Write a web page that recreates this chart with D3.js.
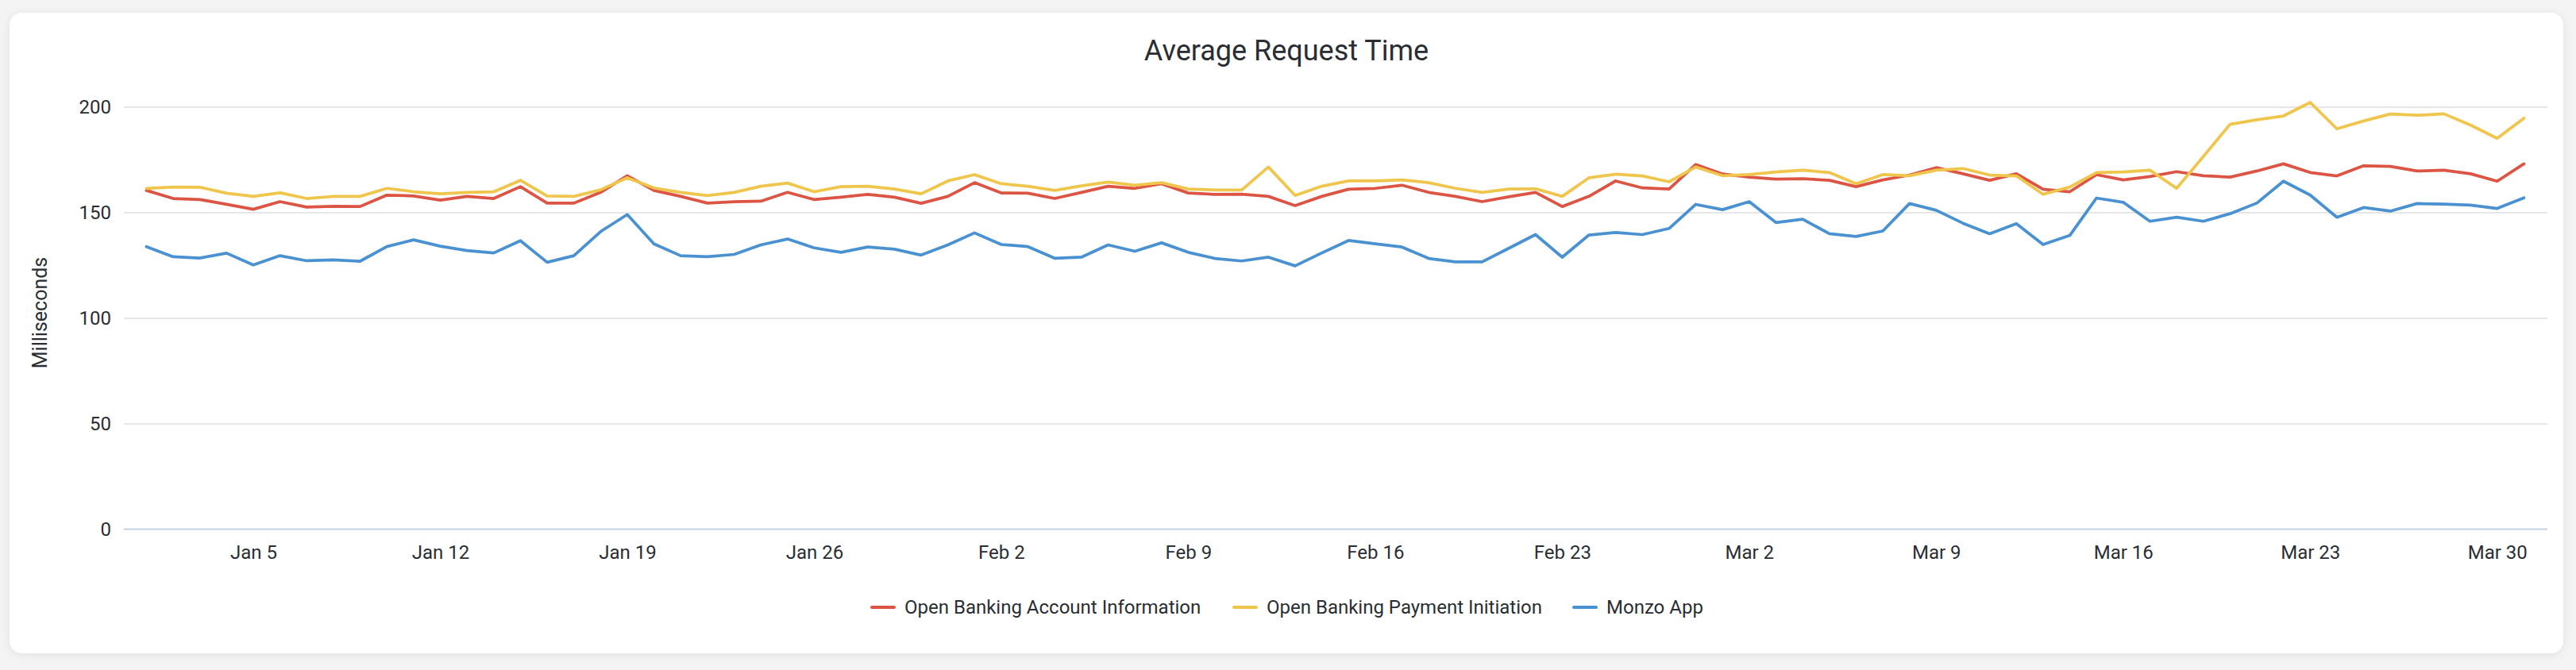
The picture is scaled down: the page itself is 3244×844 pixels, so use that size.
<!DOCTYPE html>
<html>
<head>
<meta charset="utf-8">
<script src="https://cdn.jsdelivr.net/npm/d3@7"></script>
<style>
    body { margin: 0; background: #f4f4f4; font-family: Roboto, "Noto Sans", sans-serif; }
</style>
</head>
<body>
<div class="canva"></div>
<script>
// daily values, Jan 1 - Mar 31
const startDay = "2019-01-01";
const dayCount = 90;

const accountInfo = [
    160.4, 156.6, 156.1, 153.8, 151.5, 155.1, 152.5, 152.9, 152.8, 158.2, 157.8, 155.8, 157.6, 156.6, 162.2,
    154.4, 154.4, 159.5, 167.4, 160.4, 157.6, 154.4, 155.1, 155.3, 159.5, 156.1, 157.2, 158.5, 157.2, 154.3,
    157.6, 164.1, 159.2, 159.1, 156.6, 159.5, 162.4, 161.4, 163.6, 159.2, 158.5, 158.6, 157.6, 153.2, 157.6,
    161.0, 161.4, 162.9, 159.5, 157.6, 155.1, 157.4, 159.5, 152.8, 157.6, 164.9, 161.6, 161.1, 172.7, 168.2,
    166.7, 165.8, 166.0, 165.2, 162.2, 165.4, 167.7, 171.2, 168.3, 165.2, 168.3, 161.0, 159.8, 167.9, 165.4,
    167.0, 169.3, 167.4, 166.7, 169.6, 173.0, 168.9, 167.3, 172.1, 171.8, 169.6, 170.0, 168.3, 164.8, 173.0
];

const paymentInit = [
    161.4, 162.0, 161.9, 159.1, 157.6, 159.3, 156.6, 157.6, 157.6, 161.4, 159.8, 158.8, 159.5, 159.8, 165.2,
    157.8, 157.6, 160.7, 166.4, 161.6, 159.5, 158.0, 159.5, 162.4, 163.9, 159.8, 162.2, 162.4, 161.1, 158.8,
    164.9, 167.9, 163.6, 162.4, 160.4, 162.6, 164.4, 162.9, 164.1, 161.1, 160.6, 160.6, 171.5, 158.0, 162.4,
    164.9, 164.9, 165.4, 164.1, 161.4, 159.5, 161.1, 161.2, 157.6, 166.4, 168.1, 167.3, 164.5, 171.5, 167.4,
    167.9, 169.2, 170.0, 168.9, 163.6, 167.9, 167.4, 170.0, 170.8, 167.7, 167.3, 158.6, 162.0, 168.9, 169.2,
    170.0, 161.4, 176.5, 191.7, 193.9, 195.7, 202.1, 189.6, 193.3, 196.6, 196.0, 196.7, 191.4, 185.1, 194.6
];

const monzoApp = [
    133.8, 129.0, 128.4, 130.7, 125.1, 129.5, 127.1, 127.5, 126.9, 133.8, 137.0, 134.0, 131.9, 130.8, 136.6,
    126.4, 129.5, 140.9, 149.0, 135.1, 129.5, 129.0, 130.1, 134.6, 137.4, 133.2, 131.1, 133.6, 132.6, 129.8,
    134.6, 140.3, 134.8, 133.8, 128.3, 128.8, 134.6, 131.6, 135.6, 131.1, 128.2, 127.0, 128.8, 124.7, 130.8,
    136.7, 135.1, 133.6, 128.2, 126.6, 126.6, 133.0, 139.5, 128.8, 139.3, 140.5, 139.5, 142.4, 153.8, 151.3,
    155.1, 145.2, 146.8, 139.9, 138.6, 141.2, 154.2, 151.0, 144.9, 139.9, 144.7, 134.8, 139.1, 156.8, 154.8,
    145.8, 147.7, 145.8, 149.4, 154.4, 164.8, 158.2, 147.7, 152.3, 150.6, 154.2, 153.9, 153.5, 151.9, 156.9
];

const seriesNames = ["Open Banking Account Information", "Open Banking Payment Initiation", "Monzo App"];
const seriesColors = ["#dc5443", "#efc54c", "#4a91d1"];

const xTickDays = ["2019-01-05", "2019-01-12", "2019-01-19", "2019-01-26", "2019-02-02", "2019-02-09",
    "2019-02-16", "2019-02-23", "2019-03-02", "2019-03-09", "2019-03-16", "2019-03-23", "2019-03-30"];
const yTicks = [0, 50, 100, 150, 200];

const parseDay = d3.utcParse("%Y-%m-%d");
const days = d3.utcDay.range(parseDay(startDay), d3.utcDay.offset(parseDay(startDay), dayCount));
const allSeries = [accountInfo, paymentInit, monzoApp];

const W = 3244, H = 844;
const plotLeft = 156, plotRight = 3208;

const svg = d3.select(".canva").append("svg")
    .attr("width", W)
    .attr("height", H)
    .style("display", "block");

const defs = svg.append("defs");
const shadow = defs.append("filter").attr("id", "shadow")
    .attr("x", "-2%").attr("y", "-5%").attr("width", "104%").attr("height", "110%");
shadow.append("feDropShadow")
    .attr("dx", 0).attr("dy", 2).attr("stdDeviation", 6)
    .attr("flood-color", "#000").attr("flood-opacity", 0.08);

// card
svg.append("rect")
    .attr("x", 12).attr("y", 16)
    .attr("width", 3216).attr("height", 807)
    .attr("rx", 16)
    .attr("fill", "#fff")
    .attr("filter", "url(#shadow)");

const x = d3.scaleUtc()
    .domain([days[0], days[days.length - 1]])
    .range([184.4, 3178.4]);

const y = d3.scaleLinear()
    .domain([0, 200])
    .range([666.5, 134.6]);

// grid + y labels
const yAxis = svg.append("g")
    .attr("transform", `translate(${plotLeft},0)`)
    .call(d3.axisLeft(y).tickValues(yTicks).tickSize(-(plotRight - plotLeft)).tickPadding(16));
yAxis.select(".domain").remove();
yAxis.selectAll("line").attr("stroke", "#e6e6e6").attr("stroke-width", 2);
yAxis.selectAll("text")
    .attr("fill", "#2a2e33")
    .style("font-family", "Roboto")
    .style("font-size", "24px");

// x axis line
svg.append("line")
    .attr("x1", plotLeft).attr("x2", plotRight)
    .attr("y1", y(0)).attr("y2", y(0))
    .attr("stroke", "#ccd6eb")
    .attr("stroke-width", 2);

const xAxis = svg.append("g")
    .attr("transform", `translate(0,${y(0)})`)
    .call(d3.axisBottom(x)
        .tickValues(xTickDays.map(parseDay))
        .tickFormat(d3.utcFormat("%b %-d"))
        .tickSize(0)
        .tickPadding(20));
xAxis.select(".domain").remove();
xAxis.selectAll("text")
    .attr("fill", "#2a2e33")
    .style("font-family", "Roboto")
    .style("font-size", "24px");

// lines
const line = d3.line()
    .x((d, i) => x(days[i]))
    .y(d => y(d));

svg.selectAll(".series")
    .data(allSeries)
    .join("path")
    .attr("class", "series")
    .attr("d", line)
    .attr("fill", "none")
    .attr("stroke", (d, i) => seriesColors[i])
    .attr("stroke-width", 3.75)
    .attr("stroke-linejoin", "round")
    .attr("stroke-linecap", "round");

// title
svg.append("text")
    .attr("x", 1620)
    .attr("y", 76)
    .attr("text-anchor", "middle")
    .attr("fill", "#2a2e33")
    .style("font-family", "Roboto")
    .style("font-size", "36px")
    .text("Average Request Time");

// y axis title
svg.append("text")
    .attr("transform", "translate(59,394) rotate(-90)")
    .attr("text-anchor", "middle")
    .attr("fill", "#2a2e33")
    .style("font-family", "Roboto")
    .style("font-size", "25px")
    .text("Milliseconds");

// legend
const legendX = [1096, 1552, 1980];
const legend = svg.selectAll(".legend")
    .data(seriesNames)
    .join("g")
    .attr("class", "legend")
    .attr("transform", (d, i) => `translate(${legendX[i]},765)`);

legend.append("line")
    .attr("x1", 2).attr("x2", 30)
    .attr("stroke", (d, i) => seriesColors[i])
    .attr("stroke-width", 4)
    .attr("stroke-linecap", "round");

legend.append("text")
    .attr("x", 43)
    .attr("dy", "0.35em")
    .attr("fill", "#2a2e33")
    .style("font-family", "Roboto")
    .style("font-size", "24px")
    .text(d => d);
</script>
</body>
</html>
